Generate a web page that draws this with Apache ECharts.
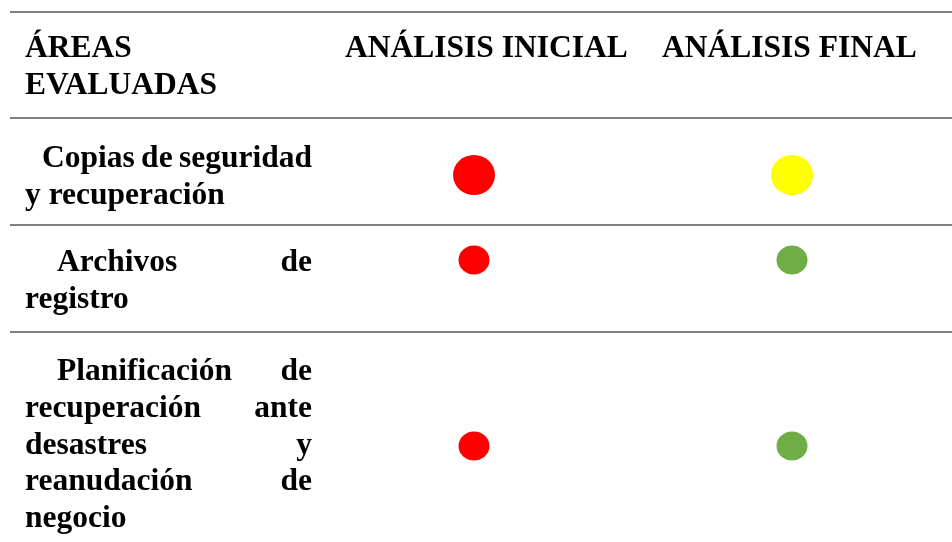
<!DOCTYPE html>
<html>
<head>
<meta charset="utf-8">
<script src="https://cdn.jsdelivr.net/npm/echarts@6/dist/echarts.min.js"></script>
<style>html,body{margin:0;padding:0;background:#fff;}#c{width:952px;height:542px;}</style>
</head>
<body>
<div id="c"></div>
<script>
// ---- data ----
const headerArea = ['ÁREAS', 'EVALUADAS'];
const columns = ['ANÁLISIS INICIAL', 'ANÁLISIS FINAL'];
const areas = [
  ['Copias de seguridad', 'y recuperación'],
  ['Archivos de', 'registro'],
  ['Planificación de', 'recuperación ante', 'desastres y', 'reanudación de', 'negocio']
];
const estadoInicial = ['rojo', 'rojo', 'rojo'];
const estadoFinal = ['amarillo', 'verde', 'verde'];

// ---- styles / layout ----
const estadoColor = { rojo: '#FF0000', amarillo: '#FFFF00', verde: '#70AD47' };
const FONT_SIZE = 31.5;
const LINE_H = 36.8;
const FONT_FAMILY = '"Liberation Serif","Times New Roman",serif';
const MID = 9.6; // baseline -> middle offset
const textLeft = 25, textRight = 312;
const headerBaseline = 58.5;
const headerColX = [345, 662];
const rowFirstBaseline = [168.5, 272.5, 381.5];
const rowIndent = [17, 32, 32];
const rules = [12, 118, 225, 332];
const dotCenterY = [175, 260, 446];
const dotSize = [[42, 40], [31, 29], [31, 29]];

const ctx = document.createElement('canvas').getContext('2d');
ctx.font = 'bold ' + FONT_SIZE + 'px ' + FONT_FAMILY;
const w = s => ctx.measureText(s).width;

function txt(s, x, baseline, align) {
  return {
    type: 'text', x: x, y: baseline - MID, silent: true,
    style: { text: s, fill: '#000', font: 'bold ' + FONT_SIZE + 'px ' + FONT_FAMILY,
             align: align || 'left', verticalAlign: 'middle' }
  };
}

const graphic = [];
rules.forEach(y => graphic.push({ type: 'line', silent: true,
  shape: { x1: 10, y1: y, x2: 952, y2: y }, style: { stroke: '#808080', lineWidth: 2 } }));
headerArea.forEach((s, i) => graphic.push(txt(s, textLeft, headerBaseline + i * LINE_H)));
columns.forEach((s, i) => graphic.push(txt(s, headerColX[i], headerBaseline)));

areas.forEach((lines, r) => {
  lines.forEach((line, li) => {
    const base = rowFirstBaseline[r] + li * LINE_H;
    const x0 = textLeft + (li === 0 ? rowIndent[r] : 0);
    const words = line.split(' ');
    const last = li === lines.length - 1;
    if (last || words.length === 1) {
      graphic.push(txt(line, x0, base));
    } else {
      const total = words.reduce((a, s) => a + w(s), 0);
      const gap = (textRight - x0 - total) / (words.length - 1);
      let x = x0;
      words.forEach((s, k) => {
        if (k === words.length - 1) graphic.push(txt(s, textRight, base, 'right'));
        else graphic.push(txt(s, x, base));
        x += w(s) + gap;
      });
    }
  });
});

const grids = [], xAxes = [], yAxes = [], series = [];
areas.forEach((lines, r) => {
  const h = 40;
  grids.push({ left: 315, right: 1, top: dotCenterY[r] - h / 2, height: h });
  xAxes.push({ type: 'category', gridIndex: r, data: columns, show: false });
  yAxes.push({ type: 'category', gridIndex: r, data: [lines.join(' ')], show: false });
  const estados = [estadoInicial[r], estadoFinal[r]];
  series.push({
    type: 'scatter', xAxisIndex: r, yAxisIndex: r, symbol: 'circle',
    symbolSize: dotSize[r], silent: true,
    itemStyle: { opacity: 1 },
    data: columns.map((c, k) => ({ value: [c, lines.join(' ')],
      itemStyle: { color: estadoColor[estados[k]], opacity: 1 } }))
  });
});

const chart = echarts.init(document.getElementById('c'), null, { renderer: 'canvas' });
chart.setOption({
  backgroundColor: '#ffffff',
  animation: false,
  grid: grids, xAxis: xAxes, yAxis: yAxes, series: series,
  graphic: graphic
});
</script>
</body>
</html>
